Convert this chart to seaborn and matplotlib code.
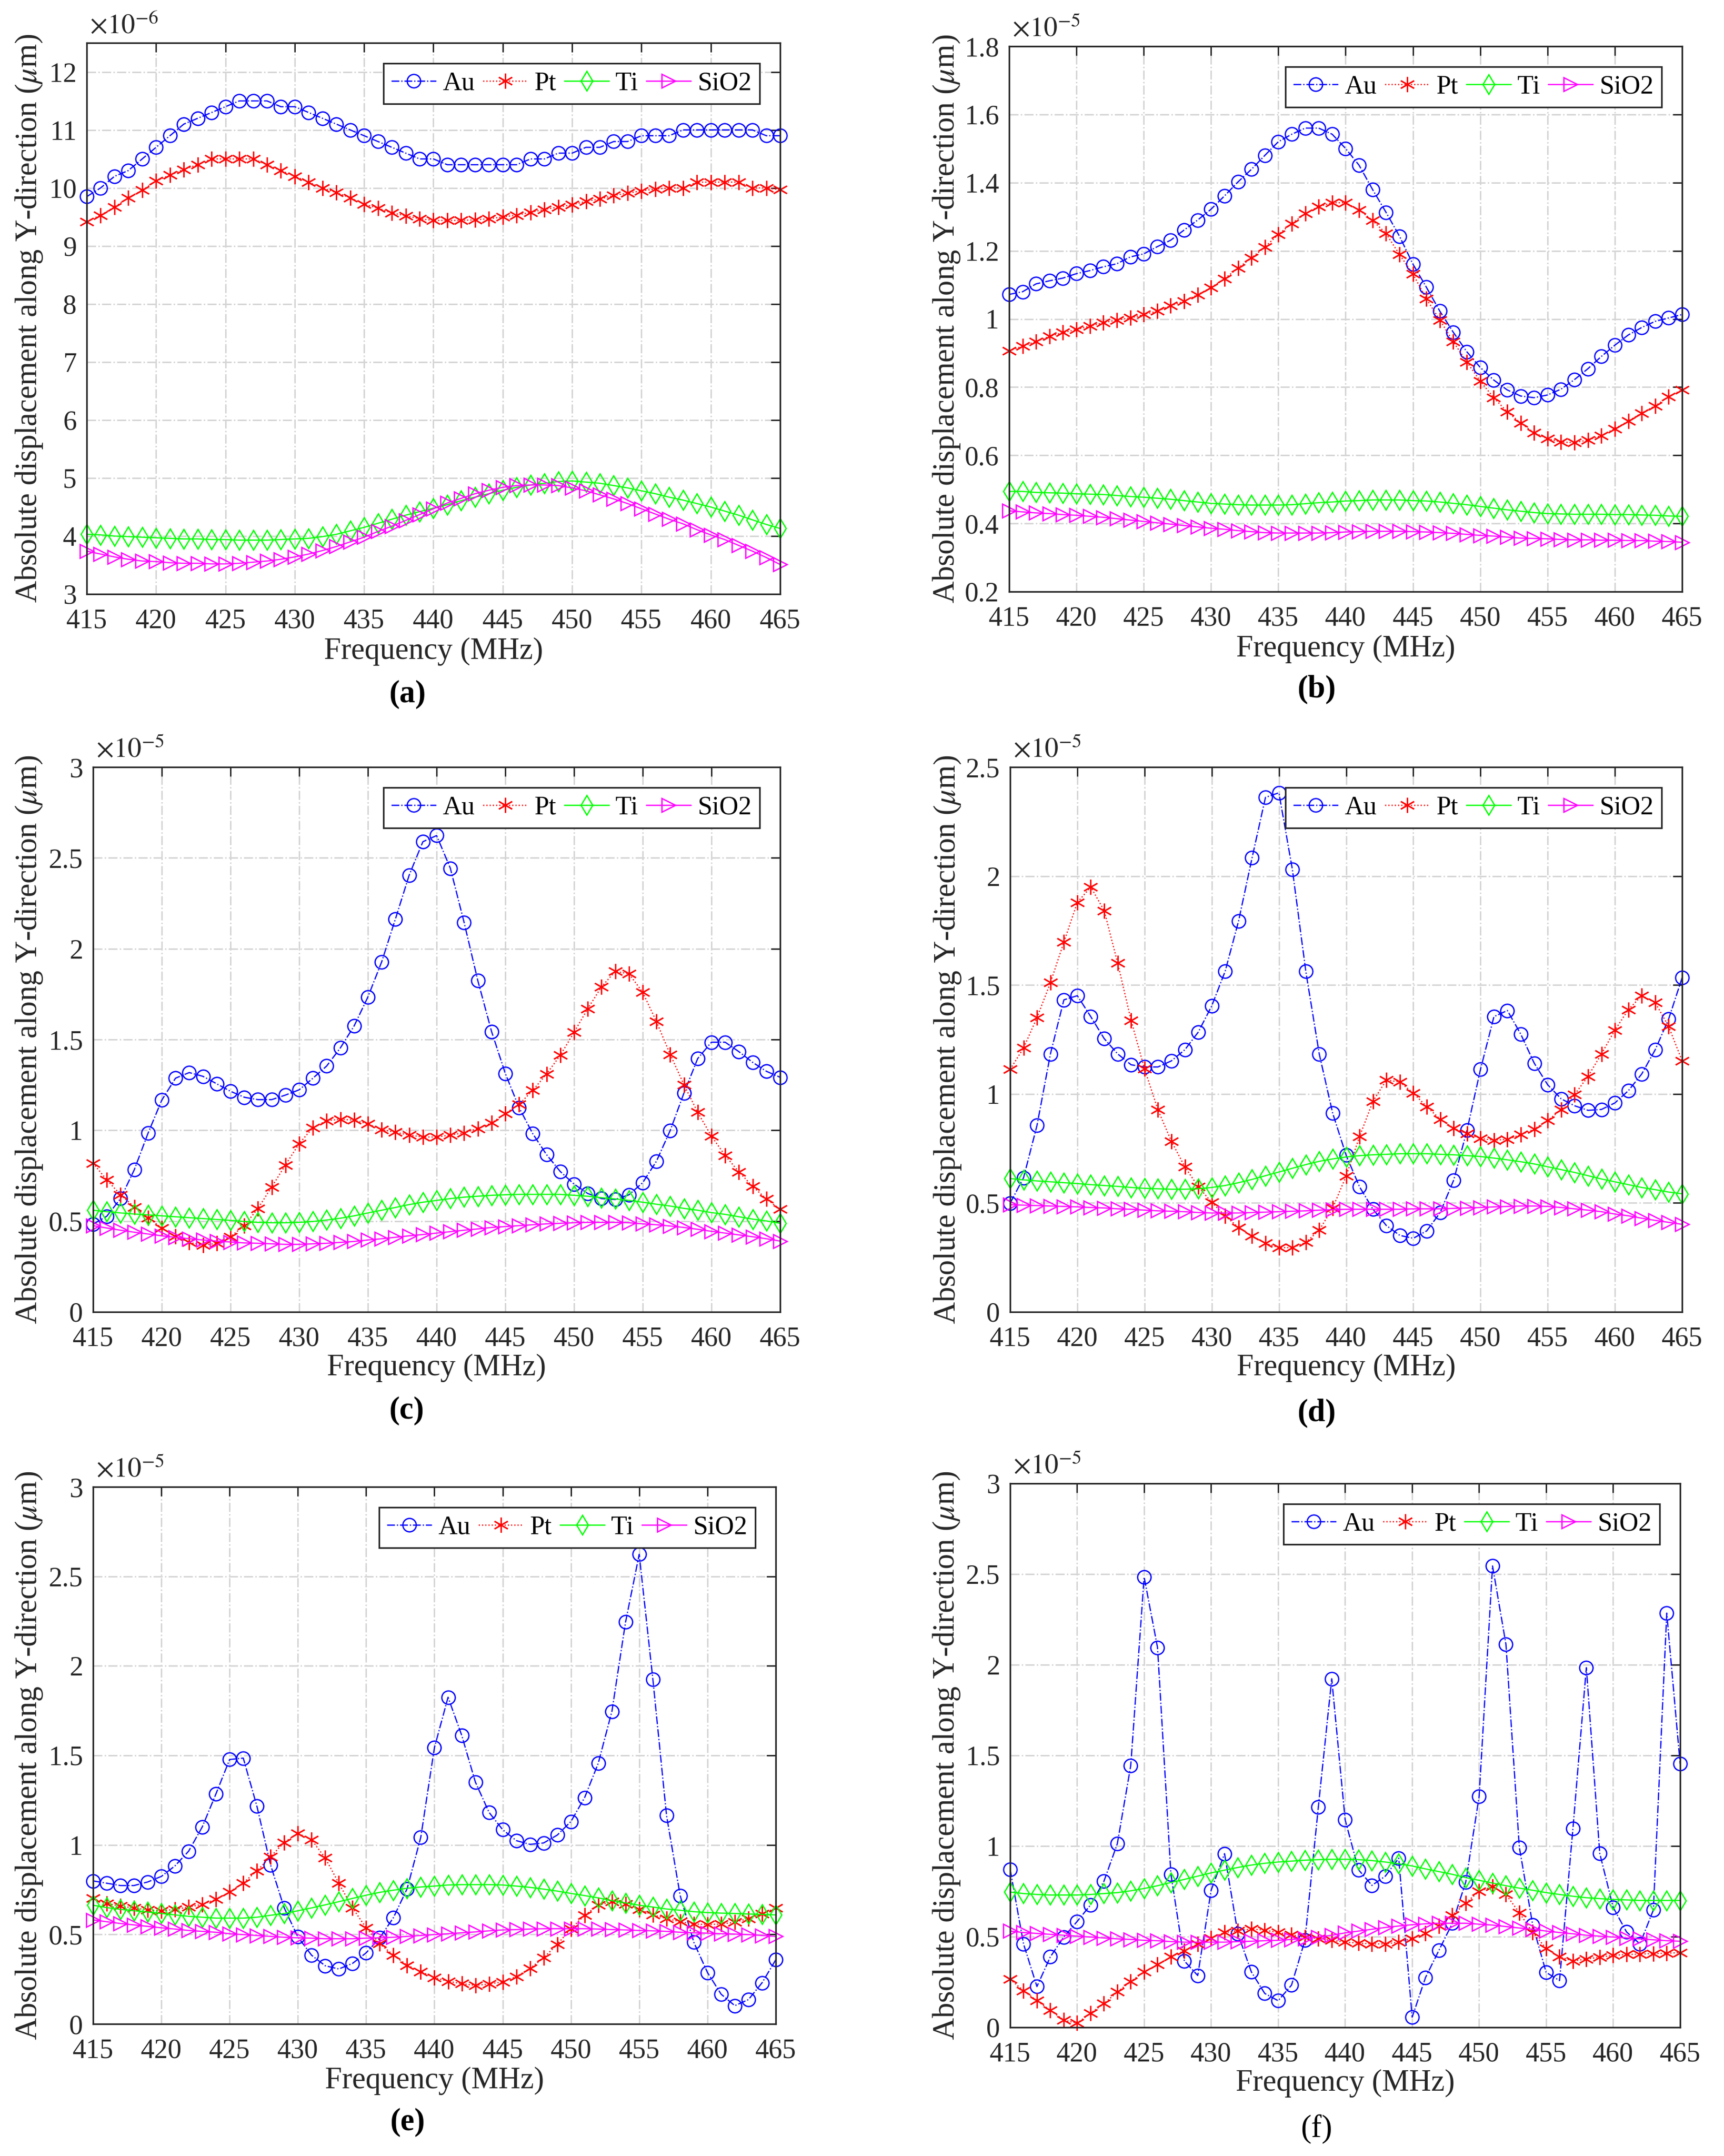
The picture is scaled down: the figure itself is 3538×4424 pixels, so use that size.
import matplotlib
matplotlib.use("Agg")
import matplotlib.pyplot as plt
import seaborn as sns
import pandas as pd
from matplotlib.ticker import FuncFormatter, FixedLocator

freq = list(range(415, 466))
materials = ["Au", "Pt", "Ti", "SiO2"]
panel_tags = ["(a)", "(b)", "(c)", "(d)", "(e)", "(f)"]
exponents = [-6, -5, -5, -5, -5, -5]
y_limits = [(3, 12.5), (0.2, 1.8), (0, 3), (0, 2.5), (0, 3), (0, 3)]
y_ticks = [[3, 4, 5, 6, 7, 8, 9, 10, 11, 12],
           [0.2, 0.4, 0.6, 0.8, 1.0, 1.2, 1.4, 1.6, 1.8],
           [0, 0.5, 1, 1.5, 2, 2.5, 3],
           [0, 0.5, 1, 1.5, 2, 2.5],
           [0, 0.5, 1, 1.5, 2, 2.5, 3],
           [0, 0.5, 1, 1.5, 2, 2.5, 3]]
x_ticks = [415, 420, 425, 430, 435, 440, 445, 450, 455, 460, 465]

# ---- panel (a), units of 1e-6 um ----
a_au = [9.85, 10.0, 10.2, 10.3, 10.5, 10.7, 10.9, 11.1, 11.2, 11.3,
        11.4, 11.5, 11.5, 11.5, 11.4, 11.4, 11.3, 11.2, 11.1, 11.0,
        10.9, 10.8, 10.7, 10.6, 10.5, 10.5, 10.4, 10.4, 10.4, 10.4,
        10.4, 10.4, 10.5, 10.5, 10.6, 10.6, 10.7, 10.7, 10.8, 10.8,
        10.9, 10.9, 10.9, 11.0, 11.0, 11.0, 11.0, 11.0, 11.0, 10.9,
        10.9]
a_pt = [9.42, 9.53, 9.67, 9.83, 9.96, 10.12, 10.22, 10.32, 10.4, 10.5,
        10.5, 10.5, 10.5, 10.4, 10.3, 10.2, 10.1, 10.0, 9.92, 9.83,
        9.72, 9.65, 9.57, 9.52, 9.47, 9.44, 9.44, 9.44, 9.45, 9.47,
        9.5, 9.53, 9.58, 9.63, 9.67, 9.71, 9.77, 9.81, 9.87, 9.91,
        9.95, 9.98, 10.0, 10.0, 10.1, 10.1, 10.1, 10.1, 10.0, 10.0,
        9.97]
a_ti = [4.03, 4.02, 4.0, 3.99, 3.98, 3.97, 3.96, 3.95, 3.95, 3.94,
        3.94, 3.93, 3.93, 3.93, 3.94, 3.95, 3.96, 3.99, 4.03, 4.09,
        4.15, 4.22, 4.29, 4.36, 4.42, 4.48, 4.54, 4.61, 4.67, 4.73,
        4.79, 4.84, 4.88, 4.91, 4.94, 4.95, 4.93, 4.91, 4.87, 4.83,
        4.78, 4.73, 4.67, 4.62, 4.56, 4.5, 4.43, 4.36, 4.28, 4.2,
        4.13]
a_si = [3.74, 3.69, 3.64, 3.6, 3.57, 3.56, 3.54, 3.53, 3.53, 3.52,
        3.52, 3.53, 3.55, 3.57, 3.6, 3.64, 3.69, 3.75, 3.82, 3.9,
        3.98, 4.08, 4.17, 4.27, 4.37, 4.47, 4.57, 4.65, 4.73, 4.79,
        4.84, 4.87, 4.88, 4.88, 4.87, 4.83, 4.78, 4.71, 4.64, 4.56,
        4.47, 4.38, 4.29, 4.21, 4.11, 4.02, 3.94, 3.84, 3.74, 3.63,
        3.51]

# ---- panel (b), units of 1e-5 um ----
b_au = [1.072, 1.08, 1.103, 1.112, 1.12, 1.133, 1.142, 1.153, 1.162, 1.182,
        1.191, 1.212, 1.231, 1.261, 1.29, 1.322, 1.361, 1.402, 1.439, 1.48,
        1.52, 1.542, 1.56, 1.56, 1.542, 1.5, 1.451, 1.38, 1.313, 1.243,
        1.161, 1.093, 1.023, 0.961, 0.904, 0.858, 0.821, 0.792, 0.774, 0.769,
        0.777, 0.794, 0.822, 0.854, 0.89, 0.923, 0.953, 0.975, 0.993, 1.003,
        1.013]
b_pt = [0.907, 0.92, 0.934, 0.949, 0.96, 0.969, 0.979, 0.989, 0.997, 1.003,
        1.013, 1.023, 1.039, 1.052, 1.071, 1.092, 1.118, 1.149, 1.179, 1.211,
        1.248, 1.28, 1.309, 1.33, 1.341, 1.341, 1.32, 1.289, 1.251, 1.189,
        1.132, 1.059, 0.997, 0.933, 0.874, 0.818, 0.769, 0.728, 0.695, 0.666,
        0.649, 0.639, 0.637, 0.645, 0.658, 0.678, 0.7, 0.724, 0.745, 0.772,
        0.792]
b_ti = [0.494, 0.494, 0.491, 0.49, 0.489, 0.487, 0.486, 0.485, 0.482, 0.479,
        0.477, 0.474, 0.471, 0.467, 0.463, 0.459, 0.457, 0.455, 0.454, 0.454,
        0.454, 0.455, 0.458, 0.461, 0.463, 0.466, 0.467, 0.469, 0.469, 0.469,
        0.467, 0.466, 0.463, 0.459, 0.455, 0.45, 0.445, 0.44, 0.436, 0.432,
        0.429, 0.428, 0.427, 0.427, 0.427, 0.426, 0.426, 0.425, 0.424, 0.422,
        0.421]
b_si = [0.437, 0.434, 0.431, 0.429, 0.426, 0.424, 0.421, 0.418, 0.414, 0.41,
        0.406, 0.402, 0.398, 0.394, 0.39, 0.386, 0.383, 0.379, 0.376, 0.373,
        0.372, 0.372, 0.372, 0.372, 0.373, 0.375, 0.376, 0.377, 0.377, 0.377,
        0.376, 0.375, 0.373, 0.371, 0.368, 0.365, 0.363, 0.36, 0.357, 0.356,
        0.355, 0.353, 0.352, 0.352, 0.351, 0.351, 0.35, 0.35, 0.348, 0.347,
        0.345]

# ---- panel (c) ----
c_au = [0.483, 0.527, 0.624, 0.783, 0.984, 1.166, 1.287, 1.318, 1.297, 1.256,
        1.215, 1.182, 1.169, 1.169, 1.194, 1.223, 1.287, 1.354, 1.454, 1.575,
        1.734, 1.927, 2.163, 2.404, 2.589, 2.623, 2.443, 2.145, 1.824, 1.544,
        1.313, 1.125, 0.981, 0.866, 0.773, 0.704, 0.652, 0.624, 0.619, 0.645,
        0.712, 0.83, 0.999, 1.205, 1.395, 1.485, 1.485, 1.433, 1.374, 1.325,
        1.292]
c_pt = [0.819, 0.727, 0.645, 0.578, 0.519, 0.462, 0.416, 0.383, 0.367, 0.378,
        0.414, 0.475, 0.57, 0.688, 0.809, 0.927, 1.015, 1.053, 1.061, 1.056,
        1.035, 1.004, 0.989, 0.974, 0.963, 0.963, 0.974, 0.986, 1.01, 1.04,
        1.092, 1.143, 1.22, 1.31, 1.413, 1.539, 1.67, 1.79, 1.875, 1.862,
        1.76, 1.598, 1.418, 1.251, 1.099, 0.968, 0.861, 0.771, 0.691, 0.622,
        0.565]
c_ti = [0.56, 0.552, 0.545, 0.539, 0.534, 0.529, 0.524, 0.519, 0.514, 0.509,
        0.504, 0.498, 0.493, 0.491, 0.491, 0.493, 0.498, 0.506, 0.516, 0.529,
        0.545, 0.56, 0.575, 0.591, 0.604, 0.614, 0.624, 0.632, 0.637, 0.642,
        0.645, 0.647, 0.647, 0.647, 0.647, 0.642, 0.637, 0.629, 0.622, 0.614,
        0.604, 0.593, 0.583, 0.57, 0.56, 0.547, 0.537, 0.524, 0.511, 0.501,
        0.488]
c_si = [0.475, 0.462, 0.45, 0.439, 0.429, 0.419, 0.411, 0.403, 0.396, 0.39,
        0.385, 0.38, 0.378, 0.375, 0.372, 0.372, 0.375, 0.378, 0.383, 0.388,
        0.396, 0.403, 0.411, 0.419, 0.426, 0.434, 0.442, 0.45, 0.457, 0.465,
        0.47, 0.475, 0.48, 0.485, 0.488, 0.491, 0.493, 0.493, 0.493, 0.491,
        0.485, 0.48, 0.473, 0.465, 0.455, 0.444, 0.434, 0.424, 0.414, 0.403,
        0.39]

# ---- panel (d) ----
d_au = [0.499, 0.616, 0.856, 1.184, 1.432, 1.451, 1.355, 1.254, 1.184, 1.134,
        1.124, 1.124, 1.152, 1.203, 1.284, 1.404, 1.563, 1.794, 2.083, 2.361,
        2.382, 2.031, 1.563, 1.184, 0.912, 0.719, 0.574, 0.471, 0.396, 0.351,
        0.338, 0.372, 0.456, 0.604, 0.835, 1.113, 1.355, 1.383, 1.274, 1.141,
        1.042, 0.978, 0.946, 0.925, 0.929, 0.959, 1.015, 1.092, 1.203, 1.344,
        1.533]
d_pt = [1.113, 1.211, 1.351, 1.511, 1.697, 1.879, 1.95, 1.841, 1.601, 1.338,
        1.115, 0.927, 0.783, 0.666, 0.574, 0.503, 0.441, 0.387, 0.349, 0.315,
        0.295, 0.295, 0.319, 0.375, 0.477, 0.623, 0.805, 0.967, 1.064, 1.055,
        1.004, 0.942, 0.884, 0.843, 0.818, 0.796, 0.788, 0.792, 0.813, 0.839,
        0.878, 0.929, 0.997, 1.081, 1.184, 1.293, 1.387, 1.451, 1.419, 1.31,
        1.152]
d_ti = [0.612, 0.606, 0.601, 0.597, 0.593, 0.589, 0.584, 0.58, 0.576, 0.571,
        0.567, 0.565, 0.563, 0.563, 0.565, 0.571, 0.58, 0.593, 0.608, 0.625,
        0.642, 0.659, 0.676, 0.691, 0.702, 0.711, 0.717, 0.721, 0.723, 0.726,
        0.726, 0.726, 0.723, 0.721, 0.717, 0.713, 0.706, 0.698, 0.689, 0.679,
        0.666, 0.653, 0.64, 0.625, 0.61, 0.597, 0.584, 0.571, 0.561, 0.55,
        0.542]
d_si = [0.492, 0.49, 0.488, 0.486, 0.484, 0.482, 0.479, 0.477, 0.473, 0.471,
        0.467, 0.464, 0.462, 0.46, 0.456, 0.454, 0.454, 0.454, 0.456, 0.458,
        0.46, 0.462, 0.464, 0.467, 0.469, 0.471, 0.471, 0.471, 0.471, 0.471,
        0.473, 0.473, 0.473, 0.475, 0.477, 0.479, 0.482, 0.484, 0.486, 0.486,
        0.484, 0.479, 0.473, 0.467, 0.46, 0.449, 0.441, 0.43, 0.42, 0.411,
        0.402]

# ---- panel (e) ----
e_au = [0.799, 0.786, 0.773, 0.773, 0.793, 0.824, 0.883, 0.965, 1.101, 1.285,
        1.477, 1.485, 1.216, 0.888, 0.648, 0.486, 0.384, 0.325, 0.307, 0.338,
        0.397, 0.481, 0.594, 0.755, 1.042, 1.543, 1.825, 1.612, 1.351, 1.182,
        1.085, 1.024, 1.003, 1.011, 1.055, 1.131, 1.264, 1.456, 1.746, 2.245,
        2.623, 1.925, 1.165, 0.717, 0.456, 0.287, 0.166, 0.102, 0.136, 0.23,
        0.358]
e_pt = [0.701, 0.673, 0.658, 0.648, 0.637, 0.632, 0.64, 0.653, 0.668, 0.696,
        0.737, 0.788, 0.855, 0.934, 1.014, 1.065, 1.029, 0.927, 0.786, 0.648,
        0.537, 0.448, 0.384, 0.328, 0.292, 0.259, 0.238, 0.225, 0.215, 0.223,
        0.235, 0.264, 0.31, 0.369, 0.445, 0.532, 0.607, 0.663, 0.683, 0.671,
        0.64, 0.609, 0.589, 0.571, 0.558, 0.555, 0.558, 0.568, 0.589, 0.614,
        0.648]
e_ti = [0.663, 0.65, 0.64, 0.632, 0.625, 0.617, 0.609, 0.601, 0.596, 0.591,
        0.591, 0.591, 0.596, 0.607, 0.617, 0.632, 0.648, 0.665, 0.683, 0.701,
        0.719, 0.735, 0.747, 0.758, 0.765, 0.77, 0.776, 0.778, 0.778, 0.778,
        0.776, 0.77, 0.763, 0.753, 0.742, 0.729, 0.717, 0.704, 0.689, 0.676,
        0.663, 0.653, 0.642, 0.635, 0.627, 0.622, 0.619, 0.617, 0.614, 0.612,
        0.609]
e_si = [0.581, 0.571, 0.561, 0.553, 0.545, 0.537, 0.53, 0.522, 0.517, 0.512,
        0.504, 0.499, 0.494, 0.489, 0.484, 0.481, 0.479, 0.476, 0.476, 0.476,
        0.479, 0.481, 0.484, 0.489, 0.494, 0.499, 0.504, 0.509, 0.514, 0.52,
        0.525, 0.527, 0.53, 0.532, 0.532, 0.532, 0.532, 0.53, 0.527, 0.525,
        0.522, 0.52, 0.517, 0.512, 0.509, 0.507, 0.504, 0.502, 0.499, 0.494,
        0.489]

# ---- panel (f) ----
f_au = [0.872, 0.46, 0.225, 0.389, 0.498, 0.584, 0.675, 0.806, 1.013, 1.443,
        2.484, 2.095, 0.844, 0.366, 0.286, 0.756, 0.958, 0.516, 0.306, 0.187,
        0.147, 0.233, 0.48, 1.216, 1.923, 1.145, 0.869, 0.783, 0.834, 0.933,
        0.056, 0.275, 0.425, 0.574, 0.801, 1.274, 2.545, 2.113, 0.993, 0.564,
        0.303, 0.258, 1.097, 1.984, 0.96, 0.662, 0.526, 0.46, 0.647, 2.285,
        1.453]
f_pt = [0.265, 0.202, 0.147, 0.094, 0.04, 0.023, 0.078, 0.131, 0.195, 0.253,
        0.306, 0.346, 0.389, 0.422, 0.46, 0.493, 0.523, 0.533, 0.543, 0.536,
        0.523, 0.51, 0.498, 0.49, 0.48, 0.47, 0.465, 0.46, 0.46, 0.47,
        0.49, 0.518, 0.558, 0.619, 0.685, 0.751, 0.776, 0.733, 0.632, 0.523,
        0.435, 0.389, 0.366, 0.377, 0.387, 0.397, 0.402, 0.404, 0.407, 0.409,
        0.412]
f_ti = [0.746, 0.738, 0.733, 0.73, 0.73, 0.73, 0.733, 0.738, 0.743, 0.753,
        0.766, 0.781, 0.799, 0.816, 0.834, 0.852, 0.867, 0.882, 0.895, 0.905,
        0.912, 0.917, 0.922, 0.925, 0.927, 0.927, 0.925, 0.92, 0.912, 0.902,
        0.89, 0.874, 0.859, 0.844, 0.826, 0.811, 0.796, 0.781, 0.768, 0.756,
        0.743, 0.733, 0.723, 0.715, 0.71, 0.705, 0.703, 0.7, 0.7, 0.7,
        0.7]
f_si = [0.531, 0.523, 0.518, 0.513, 0.508, 0.503, 0.498, 0.493, 0.488, 0.485,
        0.48, 0.478, 0.473, 0.47, 0.47, 0.47, 0.47, 0.473, 0.475, 0.478,
        0.48, 0.485, 0.49, 0.498, 0.508, 0.521, 0.531, 0.541, 0.551, 0.559,
        0.566, 0.571, 0.574, 0.574, 0.574, 0.569, 0.564, 0.556, 0.548, 0.541,
        0.531, 0.523, 0.516, 0.508, 0.503, 0.498, 0.493, 0.488, 0.483, 0.478,
        0.475]

panel_series = [[a_au, a_pt, a_ti, a_si], [b_au, b_pt, b_ti, b_si],
                [c_au, c_pt, c_ti, c_si], [d_au, d_pt, d_ti, d_si],
                [e_au, e_pt, e_ti, e_si], [f_au, f_pt, f_ti, f_si]]

# ---------------- style ----------------
sns.set_theme(style="white")
plt.rcParams["font.family"] = ["Liberation Serif", "DejaVu Serif"]
plt.rcParams["mathtext.fontset"] = "stix"

DARK = (0.15, 0.15, 0.15)
styles = {
    "Au":   dict(color=(0, 0, 1), marker="o", linestyle="-.", ms=6.6),
    "Pt":   dict(color=(1, 0, 0), marker=(6, 2, 0), linestyle=":", ms=7.5),
    "Ti":   dict(color=(0, 1, 0), marker="d", linestyle="-", ms=6.8),
    "SiO2": dict(color=(1, 0, 1), marker=">", linestyle="-", ms=6.6),
}

W, H = 3538, 4424
DPI = 300
fig = plt.figure(figsize=(W / DPI, H / DPI), dpi=DPI)
fig.patch.set_facecolor("white")

# axes boxes in pixels: left, right, top, bottom
boxes = [(178, 1601, 88, 1219), (2071, 3452, 95, 1214),
         (191, 1601, 1574, 2692), (2073, 3452, 1574, 2692),
         (191, 1592, 3051, 4153), (2073, 3448, 3044, 4160)]
xlabel_y = [1337, 1332, 2807, 2807, 4270, 4275]
ylabel_x = [60, 1942, 60, 1945, 60, 1942]
tag_pos = [(836, 1425), (2702, 1415), (834, 2895), (2702, 2900),
           (836, 4355), (2702, 4369)]
tag_bold = [True, True, True, True, True, False]

for i in range(6):
    L, R, T, B = boxes[i]
    ax = fig.add_axes([L / W, 1 - B / H, (R - L) / W, (B - T) / H])
    wpx, hpx = R - L, B - T
    rows = []
    for m, vals in zip(materials, panel_series[i]):
        assert len(vals) == len(freq)
        for f, v in zip(freq, vals):
            rows.append({"Frequency": f, "Value": v, "Material": m})
    df = pd.DataFrame(rows)
    for m in materials:
        st = styles[m]
        sub = df[df["Material"] == m]
        sns.lineplot(data=sub, x="Frequency", y="Value", ax=ax,
                     color=st["color"], linestyle=st["linestyle"],
                     marker=st["marker"], markersize=st["ms"],
                     markerfacecolor="none", markeredgecolor=st["color"],
                     markeredgewidth=0.65, linewidth=0.6, label=m,
                     errorbar=None, clip_on=False, legend=False)
    ax.set_xlim(415, 465)
    ax.set_ylim(*y_limits[i])
    ax.xaxis.set_major_locator(FixedLocator(x_ticks))
    ax.yaxis.set_major_locator(FixedLocator(y_ticks[i]))
    ax.yaxis.set_major_formatter(FuncFormatter(lambda v, p: f"{v:g}"))
    ax.xaxis.set_major_formatter(FuncFormatter(lambda v, p: f"{v:g}"))
    ax.set_axisbelow(True)
    ax.grid(True, color=(0.83, 0.83, 0.83), linestyle="-.", linewidth=0.7)
    for sp in ax.spines.values():
        sp.set_color(DARK)
        sp.set_linewidth(0.8)
    ax.tick_params(direction="in", top=True, right=True, length=4.5,
                   width=0.7, color=DARK, labelcolor=DARK, labelsize=13.5)
    ax.tick_params(axis="x", pad=7)
    ax.tick_params(axis="y", pad=5)

    ax.set_xlabel("Frequency (MHz)", fontsize=15, color=DARK)
    ax.set_ylabel(r"Absolute displacement along Y-direction ($\mu$m)",
                  fontsize=15, color=DARK)
    ax.xaxis.label.set_va("center")
    ax.yaxis.label.set_va("center")
    ax.xaxis.set_label_coords(0.5, -(xlabel_y[i] - B) / hpx)
    ax.yaxis.set_label_coords((ylabel_x[i] - L) / wpx, 0.5)

    ax.text(6 / wpx, 1 + 8 / hpx, r"$\times10^{%d}$" % exponents[i],
            transform=ax.transAxes, ha="left", va="bottom", fontsize=13.5,
            color=DARK)

    leg = ax.legend(loc="upper right", ncol=4,
                    bbox_to_anchor=(1 - 42 / wpx, 1 - 42 / hpx),
                    borderaxespad=0, fontsize=13, frameon=True, fancybox=False,
                    edgecolor=DARK, framealpha=1, handlelength=1.7,
                    handletextpad=0.25, columnspacing=0.3, borderpad=0.3)
    leg.get_frame().set_linewidth(0.8)
    for t in leg.get_texts():
        t.set_color("black")

    tx, ty = tag_pos[i]
    fig.text(tx / W, 1 - ty / H, panel_tags[i], ha="center", va="center",
             fontsize=15.5, fontweight="bold" if tag_bold[i] else "normal",
             color="black")

fig.savefig("out.png", dpi=DPI, facecolor="white")
